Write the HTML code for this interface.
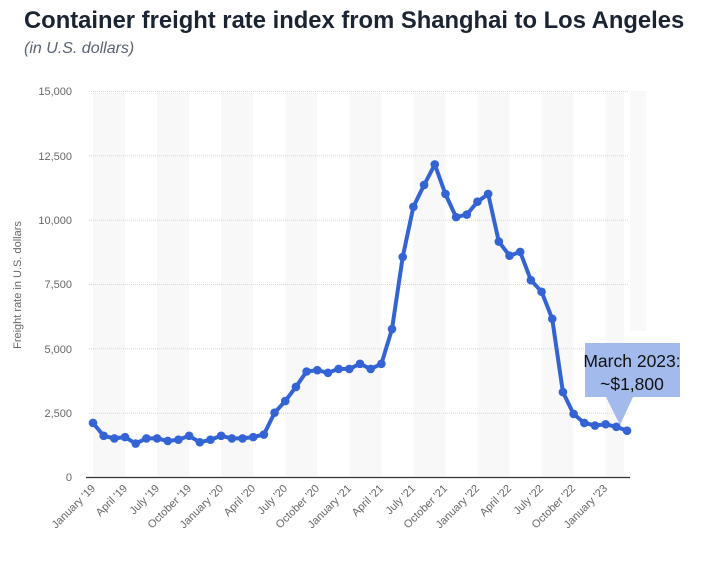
<!DOCTYPE html>
<html><head><meta charset="utf-8"><style>
body{margin:0;background:#fff;width:718px;height:559px;overflow:hidden;font-family:"Liberation Sans",sans-serif}
</style></head><body>
<svg id="s" width="718" height="559" xmlns="http://www.w3.org/2000/svg" font-family="Liberation Sans, sans-serif">
<text x="24" y="28" font-size="23.8" font-weight="bold" fill="#1b2433">Container freight rate index from Shanghai to Los Angeles</text>
<text x="24" y="53" font-size="16" font-style="italic" fill="#5a6270">(in U.S. dollars)</text>
<rect x="630" y="91" width="16" height="240" fill="#f9f9f9"/>
<g id="bands" fill="#f8f8f8"></g>
<g stroke="#d6d6d6" stroke-dasharray="1,1" stroke-width="1">
<line x1="89" x2="629" y1="91.5" y2="91.5"/><line x1="89" x2="629" y1="155.8" y2="155.8"/><line x1="89" x2="629" y1="220.2" y2="220.2"/><line x1="89" x2="629" y1="284.5" y2="284.5"/><line x1="89" x2="629" y1="348.8" y2="348.8"/><line x1="89" x2="629" y1="413.2" y2="413.2"/>
</g>
<line x1="86" x2="630" y1="477.5" y2="477.5" stroke="#333" stroke-width="1.3"/>
<g font-size="11" fill="#666" text-anchor="end">
<text x="72" y="95">15,000</text><text x="72" y="160">12,500</text><text x="72" y="224">10,000</text><text x="72" y="288">7,500</text><text x="72" y="353">5,000</text><text x="72" y="417">2,500</text><text x="72" y="481">0</text>
</g>
<text transform="translate(21,285) rotate(-90)" font-size="11" fill="#666" text-anchor="middle">Freight rate in U.S. dollars</text>
<g font-size="11" fill="#666" text-anchor="end" id="xl">
<text transform="translate(96,489) rotate(-45)">January '19</text>
<text transform="translate(128,489) rotate(-45)">April '19</text>
<text transform="translate(160,489) rotate(-45)">July '19</text>
<text transform="translate(192,489) rotate(-45)">October '19</text>
<text transform="translate(224,489) rotate(-45)">January '20</text>
<text transform="translate(256,489) rotate(-45)">April '20</text>
<text transform="translate(288,489) rotate(-45)">July '20</text>
<text transform="translate(320,489) rotate(-45)">October '20</text>
<text transform="translate(352,489) rotate(-45)">January '21</text>
<text transform="translate(384,489) rotate(-45)">April '21</text>
<text transform="translate(416,489) rotate(-45)">July '21</text>
<text transform="translate(448,489) rotate(-45)">October '21</text>
<text transform="translate(480,489) rotate(-45)">January '22</text>
<text transform="translate(512,489) rotate(-45)">April '22</text>
<text transform="translate(544,489) rotate(-45)">July '22</text>
<text transform="translate(576,489) rotate(-45)">October '22</text>
<text transform="translate(608,489) rotate(-45)">January '23</text>
</g>
<polyline id="ln" fill="none" stroke="#3463d4" stroke-width="4" stroke-linejoin="round"/>
<g id="pts" fill="#3463d4"></g>
<path d="M585 343 H680 V397 H633 L620 425 L606 397 H585 Z" fill="#a3baec"/>
<text x="632" y="367" font-size="17.5" fill="#111" text-anchor="middle">March 2023:</text>
<text x="632" y="390" font-size="17.5" fill="#111" text-anchor="middle">~$1,800</text>
</svg>
<script>
var v=[2100,1600,1500,1550,1300,1500,1500,1400,1450,1600,1350,1450,1600,1500,1500,1550,1650,2500,2950,3500,4100,4150,4050,4200,4200,4400,4200,4400,5750,8550,10500,11350,12150,11000,10100,10200,10700,11000,9150,8600,8750,7650,7200,6150,3300,2450,2100,2000,2050,1950,1800];
var ns="http://www.w3.org/2000/svg",p=[],g=document.getElementById('pts'),b=document.getElementById('bands');
function X(i){return 93+i*10.68}function Y(x){return 477-x*0.02573}
for(var i=0;i<v.length;i++){p.push(X(i).toFixed(1)+","+Y(v[i]).toFixed(1));var c=document.createElementNS(ns,'circle');c.setAttribute('cx',X(i));c.setAttribute('cy',Y(v[i]));c.setAttribute('r',4.3);g.appendChild(c);}
document.getElementById('ln').setAttribute('points',p.join(' '));
for(var i=0;i<51;i+=6){var r=document.createElementNS(ns,'rect');r.setAttribute('x',X(i));r.setAttribute('y',92);r.setAttribute('width',Math.min(32,624-X(i)));r.setAttribute('height',385);b.appendChild(r);}
</script>
</body></html>
